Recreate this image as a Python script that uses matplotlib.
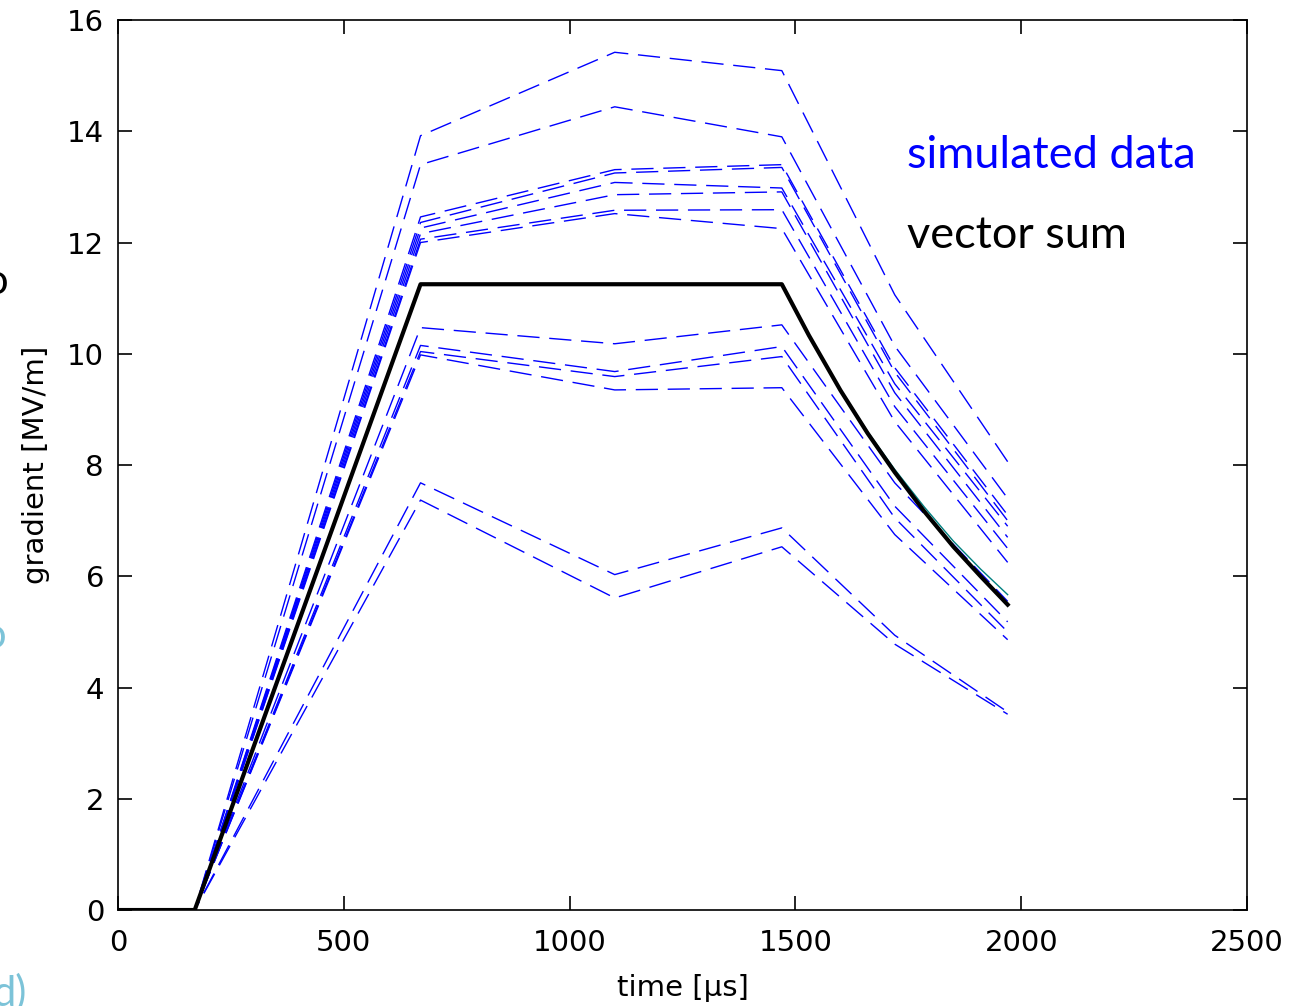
import numpy as np
import matplotlib
matplotlib.use('Agg')
import matplotlib.pyplot as plt

# time knots [us]
t_blue = [0, 170, 670, 1100, 1470, 1720, 1970]
t_sum = [0, 170, 670, 1100, 1470, 1530, 1600, 1660, 1720, 1785, 1850, 1910, 1970]

# simulated cavity gradients [MV/m] at t_blue
sim_data = {
    'A':  [0, 0, 13.92, 15.42, 15.09, 11.06, 8.06],
    'B':  [0, 0, 13.40, 14.44, 13.90, 10.14, 7.40],
    'C1': [0, 0, 12.46, 13.31, 13.40, 9.75, 7.10],
    'C2': [0, 0, 12.36, 13.25, 13.35, 9.67, 7.00],
    'C3': [0, 0, 12.26, 13.08, 12.98, 9.46, 6.90],
    'C4': [0, 0, 12.16, 12.86, 12.91, 9.30, 6.70],
    'C5': [0, 0, 12.06, 12.58, 12.59, 9.05, 6.50],
    'C6': [0, 0, 12.00, 12.52, 12.25, 8.78, 6.25],
    'D1': [0, 0, 10.47, 10.18, 10.52, 7.68, 5.55],
    'D2': [0, 0, 10.15, 9.68, 10.13, 7.26, 5.18],
    'D3': [0, 0, 10.04, 9.59, 9.95, 7.05, 5.00],
    'D4': [0, 0, 9.98, 9.35, 9.39, 6.75, 4.86],
    'E1': [0, 0, 7.68, 6.03, 6.87, 4.94, 3.56],
    'E2': [0, 0, 7.37, 5.61, 6.53, 4.78, 3.52],
}

# vector sum and a reference trace at t_sum
vector_sum = [0, 0, 11.25, 11.25, 11.25, 10.33, 9.34, 8.57, 7.87, 7.17, 6.53, 6.00, 5.49]
reference = [0, 0, 11.25, 11.25, 11.25, 10.34, 9.36, 8.60, 7.92, 7.25, 6.63, 6.13, 5.67]

x_ticks = [0, 500, 1000, 1500, 2000, 2500]
y_ticks = [0, 2, 4, 6, 8, 10, 12, 14, 16]

fig = plt.figure(figsize=(12.96, 10.06), dpi=100)
ax = fig.add_axes([0.0910, 0.0954, 0.8712, 0.8847])

for name, vals in sim_data.items():
    ax.plot(t_blue, vals, color='#0000ff', linewidth=1.0, dashes=(16, 7))

ax.plot(t_sum, reference, color='#008080', linewidth=1.0)
ax.plot(t_sum, vector_sum, color='black', linewidth=3.0)

ax.set_xlim(0, 2500)
ax.set_ylim(0, 16)
ax.set_xticks(x_ticks)
ax.set_yticks(y_ticks)
ax.tick_params(direction='in', length=10, width=1.2, top=True, right=True,
               labelsize=21)
ax.tick_params(axis='x', pad=14)
ax.tick_params(axis='y', pad=10)
for s in ax.spines.values():
    s.set_linewidth(1.2)

ax.set_xlabel('time [\u00b5s]', fontsize=21, labelpad=12)
ax.set_ylabel('gradient [MV/m]', fontsize=21, labelpad=12)

# slide annotations
fig.text(907 / 1296, 1 - 155 / 1006, 'simulated data', color='#0000ff',
         fontsize=32.5, family='Lato', va='center', ha='left')
fig.text(907 / 1296, 1 - 236 / 1006, 'vector sum', color='black',
         fontsize=32.5, family='Lato', va='center', ha='left')
fig.text(-0.012, 1 - 282 / 1006, 'o', color='black', fontsize=30,
         family='Lato', va='center', ha='left')
fig.text(-0.014, 1 - 636 / 1006, 'o', color='#7cc3d8', fontsize=30,
         family='Lato', va='center', ha='left')
fig.text(-0.006, 1 - 993 / 1006, 'd)', color='#7cc3d8', fontsize=30,
         family='Lato', va='center', ha='left')

fig.savefig('out.png', dpi=100)
